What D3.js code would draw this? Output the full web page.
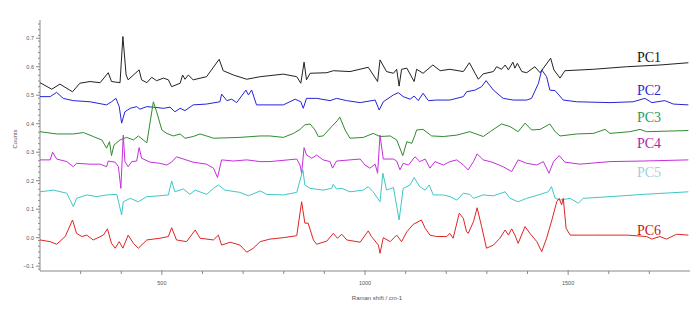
<!DOCTYPE html>
<html>
<head>
<meta charset="utf-8">
<script src="https://cdn.jsdelivr.net/npm/d3@7"></script>
<style>
  body { margin: 0; background: #fff; }
  svg { display: block; }
</style>
</head>
<body>
<div id="chart"></div>
<script>
// Raman shift (cm-1), counts
const pc1 = [[200,0.544],[229,0.521],[249,0.539],[280,0.512],[298,0.542],[323,0.548],[348,0.544],[368,0.579],[376,0.548],[397,0.544],[404,0.706],[412,0.571],[417,0.554],[444,0.589],[450,0.554],[463,0.544],[475,0.563],[487,0.551],[504,0.560],[516,0.554],[524,0.530],[545,0.542],[551,0.571],[557,0.556],[565,0.571],[577,0.554],[610,0.565],[641,0.626],[651,0.586],[676,0.571],[709,0.556],[742,0.565],[799,0.574],[832,0.565],[842,0.542],[850,0.616],[856,0.554],[865,0.577],[906,0.579],[922,0.586],[963,0.583],[1008,0.598],[1031,0.548],[1037,0.624],[1053,0.583],[1070,0.577],[1078,0.591],[1084,0.532],[1090,0.591],[1103,0.595],[1121,0.548],[1127,0.591],[1143,0.577],[1167,0.606],[1185,0.586],[1209,0.591],[1242,0.583],[1257,0.614],[1271,0.577],[1279,0.556],[1291,0.575],[1316,0.583],[1324,0.600],[1336,0.591],[1345,0.606],[1353,0.589],[1364,0.616],[1369,0.595],[1375,0.612],[1386,0.583],[1398,0.579],[1418,0.600],[1431,0.579],[1457,0.630],[1465,0.589],[1480,0.560],[1492,0.586],[1562,0.591],[1644,0.600],[1726,0.606],[1796,0.614]];

const pc2 = [[200,0.495],[225,0.495],[241,0.510],[257,0.489],[282,0.481],[323,0.477],[364,0.466],[376,0.477],[387,0.489],[395,0.460],[401,0.402],[409,0.442],[422,0.454],[438,0.460],[446,0.451],[463,0.460],[479,0.458],[504,0.454],[520,0.458],[532,0.442],[545,0.454],[557,0.446],[577,0.466],[610,0.469],[643,0.477],[647,0.504],[660,0.481],[672,0.486],[684,0.474],[707,0.518],[713,0.501],[721,0.518],[733,0.466],[799,0.466],[828,0.486],[842,0.477],[848,0.454],[856,0.489],[881,0.489],[914,0.481],[930,0.489],[955,0.481],[988,0.474],[1025,0.483],[1035,0.448],[1045,0.477],[1070,0.501],[1082,0.509],[1094,0.495],[1111,0.486],[1121,0.497],[1131,0.481],[1143,0.507],[1156,0.481],[1176,0.483],[1209,0.483],[1242,0.495],[1250,0.512],[1271,0.518],[1287,0.530],[1298,0.551],[1316,0.518],[1340,0.489],[1365,0.483],[1398,0.483],[1410,0.489],[1427,0.542],[1435,0.589],[1447,0.565],[1455,0.518],[1468,0.516],[1488,0.483],[1521,0.477],[1603,0.474],[1660,0.477],[1689,0.489],[1706,0.474],[1738,0.481],[1759,0.469],[1796,0.466]];

const pc3 = [[200,0.372],[241,0.364],[282,0.364],[307,0.369],[331,0.355],[352,0.343],[364,0.314],[371,0.337],[376,0.288],[382,0.325],[397,0.343],[413,0.352],[430,0.343],[442,0.357],[454,0.343],[463,0.333],[479,0.477],[487,0.442],[500,0.378],[512,0.366],[528,0.357],[545,0.364],[557,0.349],[577,0.355],[594,0.364],[610,0.357],[627,0.349],[692,0.352],[742,0.357],[766,0.357],[799,0.352],[824,0.366],[840,0.380],[852,0.396],[865,0.399],[877,0.378],[885,0.355],[897,0.357],[918,0.390],[932,0.411],[938,0.423],[951,0.378],[963,0.349],[996,0.352],[1020,0.366],[1037,0.355],[1062,0.357],[1078,0.343],[1093,0.288],[1103,0.337],[1115,0.331],[1123,0.360],[1127,0.378],[1143,0.380],[1164,0.357],[1193,0.355],[1226,0.360],[1258,0.372],[1291,0.355],[1308,0.372],[1336,0.399],[1357,0.390],[1377,0.372],[1394,0.402],[1410,0.378],[1431,0.380],[1455,0.399],[1468,0.372],[1480,0.357],[1521,0.364],[1562,0.366],[1591,0.380],[1603,0.366],[1652,0.372],[1677,0.380],[1693,0.372],[1796,0.376]];

const pc4 = [[200,0.273],[225,0.273],[231,0.300],[241,0.276],[266,0.267],[282,0.249],[290,0.261],[323,0.258],[348,0.258],[364,0.249],[368,0.269],[385,0.265],[393,0.249],[399,0.173],[405,0.360],[409,0.267],[417,0.249],[426,0.267],[438,0.269],[444,0.316],[450,0.279],[471,0.265],[495,0.261],[512,0.255],[524,0.265],[536,0.284],[553,0.276],[577,0.265],[610,0.258],[627,0.244],[637,0.211],[647,0.273],[676,0.269],[709,0.273],[742,0.267],[766,0.267],[832,0.276],[840,0.255],[844,0.226],[850,0.316],[856,0.290],[869,0.279],[881,0.290],[897,0.273],[914,0.267],[920,0.244],[930,0.269],[988,0.276],[1000,0.255],[1012,0.244],[1025,0.258],[1031,0.226],[1037,0.360],[1045,0.276],[1070,0.276],[1078,0.269],[1086,0.238],[1094,0.261],[1107,0.255],[1123,0.284],[1135,0.267],[1148,0.276],[1160,0.244],[1172,0.267],[1193,0.255],[1209,0.267],[1226,0.273],[1242,0.255],[1254,0.238],[1267,0.267],[1276,0.294],[1291,0.273],[1308,0.267],[1320,0.261],[1340,0.249],[1361,0.232],[1377,0.273],[1398,0.261],[1423,0.255],[1439,0.267],[1453,0.226],[1464,0.267],[1478,0.288],[1492,0.265],[1529,0.258],[1603,0.267],[1685,0.269],[1796,0.273]];

const pc5 = [[200,0.161],[233,0.167],[266,0.156],[282,0.109],[290,0.138],[315,0.150],[340,0.144],[364,0.150],[389,0.152],[401,0.080],[405,0.126],[422,0.138],[442,0.126],[463,0.144],[495,0.147],[516,0.150],[524,0.199],[532,0.161],[553,0.171],[569,0.152],[582,0.167],[610,0.152],[627,0.173],[639,0.185],[655,0.167],[692,0.159],[713,0.147],[742,0.164],[758,0.152],[799,0.150],[832,0.159],[847,0.238],[852,0.185],[865,0.173],[897,0.167],[918,0.173],[922,0.187],[930,0.171],[943,0.173],[963,0.161],[996,0.167],[1008,0.179],[1020,0.161],[1037,0.126],[1044,0.226],[1053,0.167],[1070,0.176],[1084,0.062],[1094,0.173],[1111,0.185],[1121,0.211],[1135,0.179],[1148,0.167],[1158,0.185],[1168,0.150],[1193,0.150],[1209,0.144],[1226,0.132],[1242,0.156],[1258,0.152],[1267,0.138],[1291,0.150],[1316,0.147],[1345,0.161],[1357,0.138],[1377,0.126],[1398,0.138],[1431,0.152],[1451,0.161],[1459,0.179],[1468,0.138],[1480,0.132],[1505,0.138],[1525,0.121],[1537,0.138],[1603,0.144],[1685,0.152],[1796,0.161]];

const pc6 = [[200,-0.008],[225,-0.014],[241,-0.023],[262,0.004],[280,0.062],[290,0.015],[303,0.004],[315,0.009],[331,-0.008],[356,0.009],[366,0.031],[376,-0.020],[385,-0.037],[395,-0.014],[404,-0.037],[417,0.009],[430,-0.020],[442,-0.037],[463,-0.008],[495,-0.002],[516,0.004],[524,0.035],[536,-0.008],[561,-0.014],[582,0.027],[594,-0.002],[627,-0.008],[639,0.009],[647,-0.026],[668,-0.016],[692,-0.026],[709,-0.051],[725,-0.037],[742,-0.014],[766,-0.005],[799,0.000],[832,0.007],[844,0.126],[852,0.051],[860,0.051],[873,-0.008],[881,-0.023],[906,-0.012],[922,0.015],[932,-0.002],[943,0.012],[955,-0.008],[988,-0.016],[1008,0.024],[1016,0.004],[1033,-0.026],[1037,-0.055],[1045,0.000],[1062,-0.014],[1078,0.009],[1090,-0.014],[1103,0.021],[1119,0.047],[1139,0.062],[1148,0.033],[1160,0.009],[1176,0.004],[1201,0.004],[1209,0.015],[1217,-0.002],[1232,0.086],[1242,0.068],[1250,0.021],[1254,0.015],[1267,0.056],[1276,0.105],[1287,0.039],[1299,-0.037],[1316,-0.026],[1332,-0.002],[1345,0.027],[1353,0.009],[1361,0.031],[1369,0.009],[1377,-0.020],[1394,0.039],[1406,0.015],[1423,-0.014],[1435,-0.049],[1447,-0.002],[1460,0.062],[1472,0.126],[1478,0.138],[1484,0.115],[1488,0.138],[1495,0.033],[1505,0.009],[1562,0.009],[1644,0.009],[1693,0.004],[1706,-0.005],[1726,0.004],[1742,-0.005],[1767,0.012],[1796,0.009]];

const seriesNames = ["PC1", "PC2", "PC3", "PC4", "PC5", "PC6"];
const lineColors = ["#222222", "#2424d8", "#2f8a2f", "#c42fdc", "#3fc6c6", "#e02424"];
const labelColors = ["#111111", "#2a2ad0", "#2e9a62", "#b021b0", "#9fcfdc", "#cc1414"];
// label baselines, in counts
const labelValues = [0.615, 0.502, 0.405, 0.315, 0.213, 0.009];

const xTicks = [500, 1000, 1500];
const xMinor = [300, 400, 600, 700, 800, 900, 1100, 1200, 1300, 1400, 1600, 1700];
const yTicks = [-0.1, 0.0, 0.1, 0.2, 0.3, 0.4, 0.5, 0.6, 0.7];

const width = 700, height = 311;

const svg = d3.select("#chart").append("svg")
    .attr("width", width)
    .attr("height", height);

const x = d3.scaleLinear().domain([200, 1800]).range([40, 690]);
const y = d3.scaleLinear().domain([-0.117, 0.764]).range([271, 20]);

const axisColor = "#8a8a8a";

// y axis with minor ticks
const yAxis = svg.append("g").attr("transform", "translate(40,0)");
yAxis.append("line")
    .attr("y1", y.range()[1]).attr("y2", y.range()[0])
    .attr("stroke", axisColor);
const yMinor = d3.range(-0.11, 0.76, 0.02);
yAxis.selectAll("line.minor")
    .data(yMinor)
    .enter().append("line")
    .attr("class", "minor")
    .attr("x1", -2).attr("x2", 0)
    .attr("y1", d => y(d)).attr("y2", d => y(d))
    .attr("stroke", axisColor);
yAxis.selectAll("line.major")
    .data(yTicks)
    .enter().append("line")
    .attr("class", "major")
    .attr("x1", -4).attr("x2", 0)
    .attr("y1", d => y(d)).attr("y2", d => y(d))
    .attr("stroke", axisColor);
yAxis.selectAll("text")
    .data(yTicks)
    .enter().append("text")
    .attr("x", -6)
    .attr("y", d => y(d))
    .attr("dy", "0.35em")
    .attr("text-anchor", "end")
    .style("font", "5.5px Arial, sans-serif")
    .style("fill", "#555")
    .text(d => d3.format(".1f")(d));

svg.append("text")
    .attr("transform", "translate(17,139) rotate(-90)")
    .attr("text-anchor", "middle")
    .style("font", "6px Arial, sans-serif")
    .style("fill", "#555")
    .text("Counts");

// x axis
const xAxis = svg.append("g").attr("transform", "translate(0,271)");
xAxis.append("line")
    .attr("x1", 40).attr("x2", 690)
    .attr("stroke", axisColor);
xAxis.selectAll("line.minor")
    .data(xMinor)
    .enter().append("line")
    .attr("class", "minor")
    .attr("x1", d => x(d)).attr("x2", d => x(d))
    .attr("y1", 0).attr("y2", 3)
    .attr("stroke", axisColor);
xAxis.selectAll("line.major")
    .data(xTicks)
    .enter().append("line")
    .attr("class", "major")
    .attr("x1", d => x(d)).attr("x2", d => x(d))
    .attr("y1", -1).attr("y2", 4)
    .attr("stroke", axisColor);
xAxis.selectAll("text")
    .data(xTicks)
    .enter().append("text")
    .attr("x", d => x(d))
    .attr("y", 14)
    .attr("text-anchor", "middle")
    .style("font", "5.5px Arial, sans-serif")
    .style("fill", "#555")
    .text(d => d);

svg.append("text")
    .attr("x", 377).attr("y", 300)
    .attr("text-anchor", "middle")
    .style("font", "6px Arial, sans-serif")
    .style("fill", "#555")
    .text("Raman shift / cm-1");

// spectra
const line = d3.line()
    .x(d => x(d[0]))
    .y(d => y(d[1]));

const allSeries = [pc1, pc2, pc3, pc4, pc5, pc6];

svg.selectAll("path.spectrum")
    .data(allSeries)
    .enter().append("path")
    .attr("class", "spectrum")
    .attr("d", line)
    .attr("fill", "none")
    .attr("stroke", (d, i) => lineColors[i])
    .attr("stroke-width", 1)
    .attr("stroke-linejoin", "round");

// series labels
svg.selectAll("text.pc")
    .data(seriesNames)
    .enter().append("text")
    .attr("class", "pc")
    .attr("x", 637)
    .attr("y", (d, i) => y(labelValues[i]))
    .style("font", "14px 'Liberation Serif', 'Times New Roman', serif")
    .style("fill", (d, i) => labelColors[i])
    .text(d => d);
</script>
</body>
</html>
